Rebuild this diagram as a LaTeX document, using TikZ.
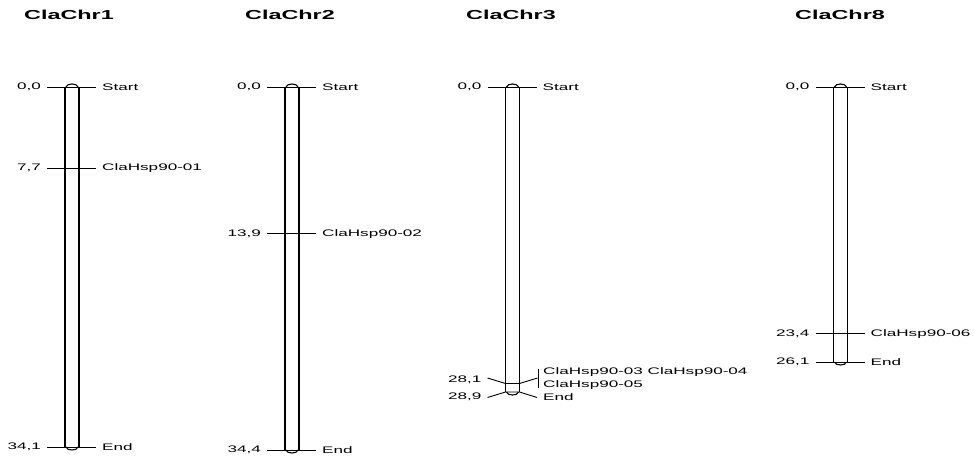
\documentclass[tikz,border=0pt]{standalone}
\usepackage{fontspec}
\setmainfont{Liberation Sans}
\newfontfamily\labfont[FakeStretch=1.8]{Liberation Sans}
\newfontfamily\titfont[FakeStretch=1.8]{Liberation Sans}
\tikzset{
  chr/.style={line width=1.1pt},
  tick/.style={line width=0.9pt},
  lab/.style={font=\labfont\fontsize{9.5}{10}\selectfont, inner sep=0pt},
  numl/.style={lab, anchor=east},
  namel/.style={lab, anchor=west},
  tit/.style={font=\titfont\fontsize{13}{14}\bfseries\selectfont, inner sep=0pt}
}
\newcommand{\chrbar}[3]{% cx, top, bottom
  \draw[chr] (#1-7,#2) -- (#1-7,#3);
  \draw[chr] (#1+7,#2) -- (#1+7,#3);
  \draw[chr] (#1-6,#2) .. controls (#1-5,#2-4) and (#1+5,#2-4) .. (#1+6,#2);
  \draw[chr] (#1-6,#3) .. controls (#1-5,#3+4) and (#1+5,#3+4) .. (#1+6,#3);
}
\newcommand{\mk}[5]{% name, cx, y, number, label
  \draw[tick] (#2-25,#3) -- (#2+24,#3);
  \node[numl] (#1n) at (#2-31,#3) {#4};
  \node[namel] (#1l) at (#2+30,#3) {#5};
}
\begin{document}
\begin{tikzpicture}[x=1pt,y=-1pt]
\useasboundingbox (0,0) rectangle (974,461);
% titles
\node[tit] (t1) at (69,15) {ClaChr1};
\node[tit] (t2) at (290,15) {ClaChr2};
\node[tit] (t3) at (511,15) {ClaChr3};
\node[tit] (t8) at (840,15) {ClaChr8};
% chr1
\chrbar{72}{87}{447}
\mk{c1a}{72}{87}{0,0}{Start}
\mk{c1b}{72}{168.3}{7,7}{ClaHsp90-01}
\mk{c1c}{72}{447}{34,1}{End}
% chr2
\chrbar{292}{87}{450}
\mk{c2a}{292}{87}{0,0}{Start}
\mk{c2b}{292}{233.7}{13,9}{ClaHsp90-02}
\mk{c2c}{292}{450}{34,4}{End}
% chr3
\chrbar{512.5}{87}{392}
\mk{c3a}{512.5}{87}{0,0}{Start}
\draw[tick] (487.5,378) -- (505.5,383.5) -- (519.5,383.5) -- (537.5,378);
\draw[tick] (538,369) -- (538,388);
\draw[tick] (487.5,397.5) -- (505.5,392) -- (519.5,392) -- (537,397.5);
\node[numl] (c3bn) at (481.5,379.5) {28,1};
\node[numl] (c3cn) at (481.5,397) {28,9};
\node[namel] (c3b1) at (543,372) {ClaHsp90-03 ClaHsp90-04};
\node[namel] (c3b2) at (543,385) {ClaHsp90-05};
\node[namel] (c3cl) at (543,397) {End};
% chr8
\chrbar{840.5}{87}{362}
\mk{c8a}{840.5}{87}{0,0}{Start}
\mk{c8b}{840.5}{333.8}{23,4}{ClaHsp90-06}
\mk{c8c}{840.5}{362}{26,1}{End}
\end{tikzpicture}
\end{document}
